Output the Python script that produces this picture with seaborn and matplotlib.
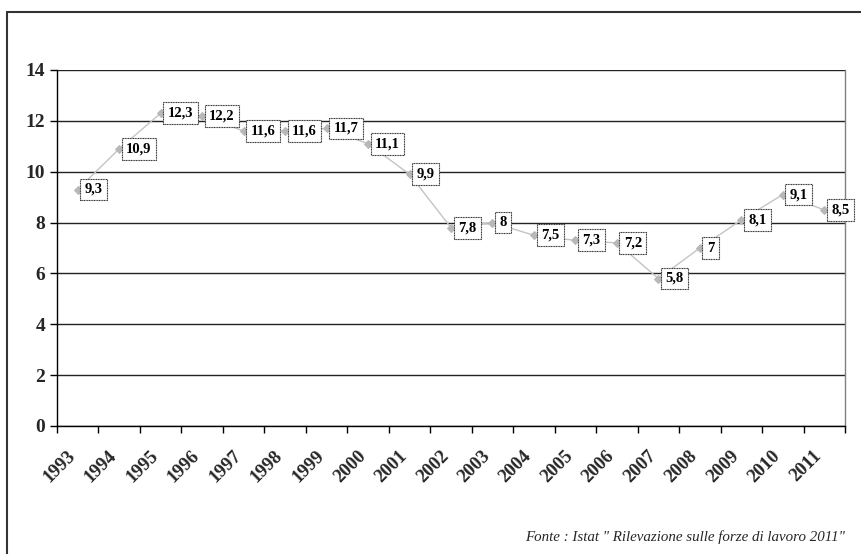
import matplotlib
matplotlib.use("Agg")
import matplotlib.pyplot as plt
import matplotlib.transforms as mtransforms
import seaborn as sns
import pandas as pd

# Data
years = ["1993", "1994", "1995", "1996", "1997", "1998", "1999", "2000", "2001", "2002",
         "2003", "2004", "2005", "2006", "2007", "2008", "2009", "2010", "2011"]
values = [9.3, 10.9, 12.3, 12.2, 11.6, 11.6, 11.7, 11.1, 9.9, 7.8,
          8.0, 7.5, 7.3, 7.2, 5.8, 7.0, 8.1, 9.1, 8.5]
labels = ["9,3", "10,9", "12,3", "12,2", "11,6", "11,6", "11,7", "11,1", "9,9", "7,8",
          "8", "7,5", "7,3", "7,2", "5,8", "7", "8,1", "9,1", "8,5"]
source = 'Fonte : Istat " Rilevazione sulle forze di lavoro 2011"'

df = pd.DataFrame({"year": years, "value": values})

sns.set_theme(style="white")
plt.rcParams["font.family"] = ["Liberation Serif", "DejaVu Serif"]

fig = plt.figure(figsize=(8.61, 5.54), dpi=100)
ax = fig.add_axes([57 / 861, 1 - 426 / 554, (845 - 57) / 861, (426 - 70) / 554])

sns.lineplot(data=df, x="year", y="value", ax=ax, color="#c4c4c4", linewidth=1,
             marker="D", markersize=4.5, markerfacecolor="#b8b8b8", markeredgecolor="#b8b8b8")

# value labels in boxes
for i, (v, lab) in enumerate(zip(values, labels)):
    ax.annotate(lab, (i, v), xytext=(5, 0), textcoords="offset points",
                ha="left", va="center", fontsize=10.5, fontweight="bold", color="black",
                bbox=dict(boxstyle="square,pad=0.3", facecolor="white",
                          edgecolor="#333333", linewidth=0.8, linestyle=(0, (1, 0.5))))

ax.set_xlim(-0.5, len(years) - 0.5)
ax.set_ylim(0, 14)
ax.set_yticks(range(0, 15, 2))
ax.set_yticklabels([str(t) for t in range(0, 15, 2)], fontsize=14, fontweight="bold")
ax.yaxis.grid(True, color="#222222", linewidth=1)
ax.set_axisbelow(True)

# x ticks: tick marks at the boundaries, year labels placed under each category
ax.set_xticks([k - 0.5 for k in range(len(years) + 1)])
ax.set_xticklabels([])
ax.tick_params(axis="x", length=5, width=1, color="black", direction="out", bottom=True)
ax.tick_params(axis="y", length=5, width=1, color="black", direction="out", left=True)
lab_trans = ax.get_xaxis_transform() + mtransforms.ScaledTranslation(-5 / 100, -27 / 100, fig.dpi_scale_trans)
for i, yr in enumerate(years):
    ax.text(i, 0, yr, transform=lab_trans, rotation=45, ha="right", va="center",
            rotation_mode="anchor", fontsize=13.5, fontweight="bold")

ax.set_xlabel("")
ax.set_ylabel("")
ax.spines["top"].set_visible(False)
ax.spines["left"].set_color("black")
ax.spines["bottom"].set_color("black")
ax.spines["right"].set_color("#808080")
for s in ["left", "bottom", "right"]:
    ax.spines[s].set_linewidth(1)

# source note
fig.text(845 / 861, 1 - 537 / 554, source, ha="right", va="center",
         fontsize=10.8, style="italic")

# outer frame (left and top edges)
fig.add_artist(plt.Line2D([7 / 861, 7 / 861], [0, 1 - 12 / 554], color="#333333", linewidth=1.5))
fig.add_artist(plt.Line2D([7 / 861, 1], [1 - 12 / 554, 1 - 12 / 554], color="#333333", linewidth=1.5))

plt.savefig("out.png", dpi=100)
